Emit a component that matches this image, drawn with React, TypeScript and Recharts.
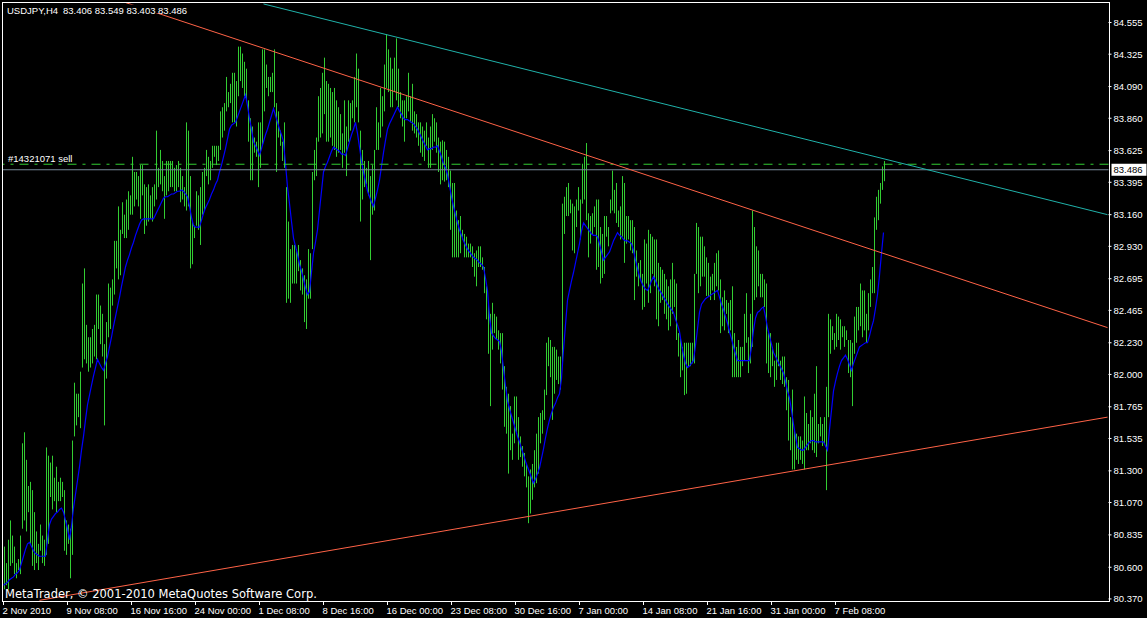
import React from "react";
import { ComposedChart, Bar, Line, XAxis, YAxis, ReferenceLine } from "recharts";

// USDJPY H4 bars, oldest first
const HIGHS = [
  80.75, 80.63, 80.80, 80.94, 80.83, 80.75, 80.63, 80.66, 80.83, 81.50,
  81.58, 81.38, 81.19, 81.22, 81.16, 81.00, 80.86, 80.77, 80.91, 80.83,
  80.80, 81.47, 81.41, 81.36, 81.41, 81.25, 81.33, 81.22, 81.25, 81.22,
  81.16, 80.94, 80.91, 80.88, 81.52, 81.94, 81.86, 81.86, 82.02, 82.66,
  82.77, 82.36, 82.27, 82.27, 82.33, 82.36, 82.58, 82.58, 82.50, 82.44,
  82.22, 82.38, 82.66, 82.63, 82.69, 82.97, 82.97, 83.22, 83.05, 83.25,
  83.16, 83.27, 83.33, 83.30, 83.58, 83.47, 83.47, 83.44, 83.52, 83.52,
  83.38, 83.36, 83.38, 83.30, 83.36, 83.38, 83.77, 83.50, 83.63, 83.55,
  83.44, 83.55, 83.55, 83.55, 83.55, 83.50, 83.52, 83.55, 83.50, 83.44,
  83.36, 83.83, 83.77, 83.44, 83.11, 83.08, 83.33, 83.30, 83.36, 83.47,
  83.50, 83.63, 83.58, 83.55, 83.66, 83.66, 83.66, 83.66, 83.91, 83.94,
  83.97, 84.16, 84.05, 84.11, 84.19, 84.19, 84.13, 84.38, 84.38, 84.33,
  84.27, 84.22, 83.99, 83.86, 83.80, 83.72, 83.69, 83.83, 83.83, 84.36,
  84.36, 84.25, 84.16, 84.16, 84.19, 84.36, 83.97, 83.91, 83.77, 83.69,
  83.83, 83.36, 83.11, 82.91, 82.94, 82.94, 82.91, 82.94, 82.83, 82.77,
  82.72, 82.69, 82.91, 82.88, 83.47, 83.63, 83.72, 84.02, 84.08, 84.19,
  84.30, 84.13, 84.11, 84.08, 84.05, 84.08, 83.99, 83.94, 83.89, 83.75,
  83.99, 83.80, 83.99, 83.97, 83.99, 84.16, 84.33, 84.22, 83.77, 83.63,
  83.55, 83.50, 83.55, 83.44, 83.52, 83.63, 83.94, 83.83, 84.08, 84.02,
  84.25, 84.47, 84.36, 84.30, 84.22, 84.30, 84.44, 84.22, 84.05, 83.99,
  83.99, 84.02, 84.19, 84.02, 84.11, 83.91, 83.89, 83.83, 83.83, 83.80,
  83.77, 83.83, 83.72, 83.80, 83.89, 83.86, 83.83, 83.72, 83.69, 83.70,
  83.69, 83.63, 83.58, 83.48, 83.39, 83.39, 83.19, 83.12, 83.15, 83.05,
  83.02, 83.00, 82.95, 82.95, 82.93, 82.88, 82.90, 82.93, 82.93, 82.85,
  82.78, 82.64, 82.52, 82.44, 82.52, 82.44, 82.42, 82.32, 82.30, 82.30,
  82.06, 81.91, 81.86, 81.77, 81.57, 81.84, 81.84, 81.69, 81.55, 81.48,
  81.43, 81.35, 81.26, 81.31, 81.35, 81.45, 81.57, 81.69, 81.72, 81.74,
  81.89, 82.23, 82.27, 82.25, 82.20, 82.20, 82.18, 82.13, 82.13, 83.24,
  83.29, 83.36, 83.39, 83.27, 83.24, 83.22, 83.27, 83.36, 83.27, 83.53,
  83.58, 83.68, 83.17, 83.15, 83.17, 83.22, 83.27, 83.27, 83.07, 83.02,
  83.15, 83.15, 83.07, 83.27, 83.48, 83.34, 83.39, 83.19, 83.22, 83.44,
  83.39, 83.15, 83.15, 83.12, 83.12, 83.07, 82.90, 82.81, 82.83, 82.73,
  82.98, 82.95, 83.05, 83.02, 83.00, 82.98, 82.98, 82.81, 82.78, 82.76,
  82.73, 82.69, 82.64, 82.69, 82.81, 82.69, 82.66, 82.30, 82.27, 82.20,
  82.23, 82.23, 82.23, 82.23, 82.23, 82.73, 83.10, 83.07, 83.00, 83.00,
  82.93, 82.85, 82.81, 82.71, 82.73, 82.81, 82.88, 82.90, 82.69, 82.56,
  82.61, 82.54, 82.52, 82.54, 82.64, 82.30, 82.20, 82.25, 82.20, 82.20,
  82.44, 82.59, 82.27, 82.44, 83.19, 83.07, 82.93, 82.90, 82.73, 82.73,
  82.69, 82.66, 82.30, 82.30, 82.20, 82.10, 82.23, 82.23, 82.10, 82.13,
  82.13, 81.98, 81.96, 81.69, 81.89, 81.60, 81.57, 81.55, 81.55, 81.52,
  81.84, 81.72, 81.64, 81.74, 81.69, 81.86, 82.06, 81.64, 81.69, 81.64,
  81.69, 81.91, 82.44, 82.40, 82.35, 82.30, 82.44, 82.42, 82.40, 82.35,
  82.35, 82.32, 82.25, 82.25, 82.23, 82.42, 82.49, 82.49, 82.66, 82.61,
  82.61, 82.44, 82.59, 82.69, 82.78, 83.14, 83.29, 83.34, 83.39, 83.51,
  83.549,
];

const LOWS = [
  80.44, 80.47, 80.44, 80.61, 80.63, 80.55, 80.52, 80.58, 80.55, 80.88,
  80.94, 80.86, 81.00, 80.77, 80.61, 80.58, 80.63, 80.58, 80.72, 80.63,
  80.61, 80.69, 80.77, 81.11, 81.02, 81.08, 81.00, 81.08, 81.08, 81.11,
  80.72, 80.69, 80.77, 80.52, 80.69, 81.55, 81.63, 81.69, 81.61, 82.05,
  82.11, 82.08, 82.02, 82.05, 82.08, 82.13, 82.11, 82.33, 82.22, 82.13,
  81.63, 81.97, 82.27, 82.33, 82.50, 82.58, 82.77, 82.69, 82.72, 83.02,
  82.99, 82.99, 83.05, 83.16, 83.16, 83.22, 83.27, 83.22, 83.13, 83.30,
  83.02, 83.08, 83.11, 83.13, 83.11, 83.22, 83.27, 83.36, 83.38, 83.33,
  83.13, 83.30, 83.33, 83.36, 83.36, 83.33, 83.33, 83.36, 83.25, 83.27,
  83.22, 83.19, 83.22, 82.77, 82.80, 82.99, 83.08, 83.05, 82.94, 83.16,
  83.19, 83.44, 83.38, 83.41, 83.50, 83.58, 83.52, 83.55, 83.63, 83.72,
  83.77, 83.91, 83.94, 83.97, 83.83, 83.83, 83.80, 84.02, 84.13, 84.08,
  84.02, 83.99, 83.69, 83.41, 83.41, 83.61, 83.58, 83.36, 83.50, 83.66,
  83.91, 84.08, 84.02, 84.05, 84.05, 83.94, 83.47, 83.72, 83.66, 83.55,
  83.50, 82.52, 82.55, 82.52, 82.66, 82.66, 82.66, 82.75, 82.61, 82.58,
  82.38, 82.33, 82.55, 82.55, 82.91, 83.41, 83.44, 83.69, 83.72, 83.75,
  83.89, 83.69, 83.69, 83.72, 83.66, 83.63, 83.58, 83.61, 83.63, 83.50,
  83.61, 83.44, 83.69, 83.77, 83.86, 83.83, 83.94, 83.83, 83.11, 83.27,
  83.36, 83.38, 83.30, 82.83, 83.16, 83.19, 83.63, 83.63, 83.72, 83.80,
  83.91, 84.08, 84.05, 83.94, 83.94, 84.05, 83.99, 83.94, 83.86, 83.80,
  83.69, 83.86, 83.91, 83.83, 83.77, 83.75, 83.72, 83.66, 83.61, 83.58,
  83.55, 83.66, 83.50, 83.50, 83.63, 83.69, 83.61, 83.47, 83.38, 83.41,
  83.40, 83.41, 83.36, 83.05, 82.85, 82.85, 82.85, 82.85, 82.88, 82.98,
  82.85, 82.85, 82.85, 82.85, 82.78, 82.71, 82.64, 82.78, 82.78, 82.76,
  82.59, 82.40, 82.15, 81.77, 82.18, 82.30, 82.25, 82.18, 82.08, 81.89,
  81.62, 81.57, 81.28, 81.45, 81.38, 81.50, 81.57, 81.38, 81.40, 81.33,
  81.26, 81.18, 80.92, 80.99, 81.09, 81.18, 81.21, 81.28, 81.50, 81.57,
  81.67, 81.85, 82.06, 81.98, 81.67, 81.86, 81.96, 81.93, 81.89, 82.08,
  83.02, 83.15, 83.15, 83.17, 82.90, 82.88, 83.07, 83.19, 82.98, 83.24,
  83.27, 83.12, 82.85, 82.95, 83.02, 83.07, 82.76, 82.78, 82.66, 82.70,
  82.73, 83.00, 82.93, 83.17, 83.19, 83.17, 83.10, 83.07, 82.98, 83.00,
  82.81, 82.95, 82.98, 82.90, 82.88, 82.54, 82.71, 82.64, 82.69, 82.47,
  82.49, 82.66, 82.52, 82.59, 82.73, 82.64, 82.40, 82.35, 82.52, 82.54,
  82.44, 82.40, 82.32, 82.35, 82.44, 82.49, 82.25, 82.13, 81.98, 82.03,
  81.85, 81.86, 82.06, 82.06, 82.08, 82.08, 82.73, 82.59, 82.64, 82.71,
  82.71, 82.57, 82.57, 82.54, 82.61, 82.54, 82.64, 82.61, 82.30, 82.35,
  82.32, 82.44, 82.30, 82.32, 81.98, 81.98, 81.98, 81.98, 81.98, 82.06,
  82.10, 82.23, 82.01, 82.08, 82.20, 82.54, 82.56, 82.64, 82.56, 82.56,
  82.49, 82.08, 82.01, 81.98, 82.06, 81.91, 81.96, 82.06, 81.96, 81.93,
  81.91, 81.74, 81.52, 81.45, 81.31, 81.31, 81.38, 81.35, 81.38, 81.35,
  81.31, 81.45, 81.45, 81.50, 81.45, 81.43, 81.40, 81.50, 81.55, 81.48,
  81.50, 81.16, 81.69, 82.15, 82.25, 82.18, 82.20, 82.25, 82.18, 82.27,
  82.20, 82.25, 82.01, 81.98, 81.77, 82.15, 82.23, 82.32, 82.35, 82.27,
  82.32, 82.23, 82.32, 82.49, 82.59, 82.59, 83.05, 83.12, 83.24, 83.34,
  83.403,
];

// moving average drawn over the bars
const MA = [
  80.47, 80.48, 80.49, 80.51, 80.52, 80.53, 80.55, 80.56, 80.58, 80.63,
  80.68, 80.73, 80.77, 80.78, 80.75, 80.72, 80.70, 80.69, 80.68, 80.68,
  80.68, 80.68, 80.80, 80.91, 80.95, 80.97, 80.99, 81.00, 81.02, 81.03,
  81.00, 80.94, 80.88, 80.80, 80.90, 81.03, 81.13, 81.23, 81.33, 81.45,
  81.55, 81.67, 81.78, 81.85, 81.92, 81.99, 82.05, 82.11, 82.08, 82.05,
  82.03, 82.08, 82.13, 82.20, 82.27, 82.35, 82.42, 82.49, 82.56, 82.64,
  82.71, 82.78, 82.83, 82.87, 82.92, 82.96, 83.01, 83.05, 83.09, 83.12,
  83.13, 83.13, 83.13, 83.13, 83.13, 83.13, 83.16, 83.19, 83.22, 83.25,
  83.28, 83.29, 83.29, 83.30, 83.31, 83.31, 83.32, 83.33, 83.33, 83.34,
  83.33, 83.31, 83.29, 83.22, 83.14, 83.08, 83.07, 83.07, 83.07, 83.12,
  83.17, 83.21, 83.24, 83.27, 83.31, 83.34, 83.38, 83.41, 83.47, 83.52,
  83.58, 83.64, 83.71, 83.78, 83.81, 83.82, 83.83, 83.87, 83.91, 83.95,
  83.99, 84.03, 83.95, 83.86, 83.78, 83.69, 83.66, 83.63, 83.59, 83.64,
  83.69, 83.74, 83.78, 83.83, 83.88, 83.93, 83.88, 83.83, 83.78, 83.74,
  83.69, 83.53, 83.36, 83.24, 83.11, 82.99, 82.93, 82.87, 82.80, 82.75,
  82.69, 82.63, 82.58, 82.60, 82.74, 82.88, 82.96, 83.05, 83.19, 83.33,
  83.47, 83.51, 83.54, 83.58, 83.62, 83.65, 83.64, 83.63, 83.62, 83.60,
  83.60, 83.59, 83.64, 83.69, 83.74, 83.78, 83.83, 83.75, 83.65, 83.55,
  83.47, 83.40, 83.33, 83.29, 83.25, 83.22, 83.28, 83.34, 83.41, 83.51,
  83.61, 83.70, 83.78, 83.82, 83.85, 83.88, 83.91, 83.94, 83.91, 83.89,
  83.86, 83.85, 83.85, 83.84, 83.83, 83.82, 83.80, 83.78, 83.75, 83.72,
  83.69, 83.66, 83.63, 83.64, 83.64, 83.65, 83.65, 83.66, 83.62, 83.58,
  83.53, 83.50, 83.45, 83.37, 83.29, 83.22, 83.16, 83.10, 83.05, 83.01,
  82.97, 82.94, 82.91, 82.89, 82.87, 82.85, 82.84, 82.83, 82.81, 82.80,
  82.78, 82.70, 82.61, 82.42, 82.30, 82.28, 82.26, 82.25, 82.24, 82.17,
  82.04, 81.92, 81.81, 81.75, 81.70, 81.65, 81.60, 81.55, 81.51, 81.46,
  81.42, 81.37, 81.33, 81.29, 81.25, 81.21, 81.24, 81.28, 81.32, 81.39,
  81.46, 81.54, 81.61, 81.67, 81.72, 81.76, 81.79, 81.83, 81.86, 81.97,
  82.18, 82.36, 82.54, 82.61, 82.68, 82.74, 82.81, 82.88, 82.95, 83.04,
  83.10, 83.08, 83.06, 83.04, 83.02, 83.01, 83.01, 83.00, 82.95, 82.89,
  82.83, 82.85, 82.87, 82.89, 82.93, 82.97, 83.00, 83.03, 83.01, 83.00,
  82.98, 82.97, 82.97, 82.96, 82.95, 82.90, 82.83, 82.77, 82.71, 82.67,
  82.64, 82.62, 82.61, 82.64, 82.68, 82.71, 82.68, 82.64, 82.61, 82.59,
  82.56, 82.54, 82.51, 82.49, 82.47, 82.45, 82.40, 82.36, 82.31, 82.22,
  82.14, 82.08, 82.05, 82.06, 82.08, 82.10, 82.21, 82.33, 82.45, 82.51,
  82.53, 82.55, 82.56, 82.57, 82.58, 82.59, 82.60, 82.61, 82.56, 82.51,
  82.47, 82.42, 82.37, 82.31, 82.26, 82.20, 82.15, 82.10, 82.10, 82.10,
  82.10, 82.10, 82.10, 82.10, 82.20, 82.32, 82.41, 82.45, 82.46, 82.48,
  82.49, 82.42, 82.34, 82.28, 82.22, 82.16, 82.13, 82.10, 82.07, 82.04,
  82.01, 81.95, 81.88, 81.83, 81.74, 81.64, 81.55, 81.47, 81.46, 81.45,
  81.45, 81.47, 81.49, 81.51, 81.52, 81.52, 81.51, 81.51, 81.51, 81.51,
  81.51, 81.48, 81.45, 81.60, 81.74, 81.88, 81.95, 82.01, 82.06, 82.10,
  82.12, 82.14, 82.11, 82.07, 82.03, 82.08, 82.12, 82.16, 82.20, 82.21,
  82.22, 82.23, 82.23, 82.28, 82.34, 82.39, 82.48, 82.58, 82.72, 82.88,
  83.03,
];

// last bar: open, high, low, close
const LAST_OHLC = [83.406, 83.549, 83.403, 83.486];
const ORDER_PRICE = 83.526;
const ORDER_LABEL = "#14321071 sell";

const X_LABELS = [
  "2 Nov 2010", "9 Nov 08:00", "16 Nov 16:00", "24 Nov 00:00", "1 Dec 08:00",
  "8 Dec 16:00", "16 Dec 00:00", "23 Dec 08:00", "30 Dec 16:00", "7 Jan 00:00",
  "14 Jan 08:00", "21 Jan 16:00", "31 Jan 00:00", "7 Feb 08:00",
];
const BARS_PER_LABEL = 32;

const Y_TICKS = [
  84.555, 84.325, 84.09, 83.86, 83.625, 83.395, 83.16, 82.93, 82.695, 82.465,
  82.23, 82.0, 81.765, 81.535, 81.3, 81.07, 80.835, 80.6, 80.37,
];

// trend lines: [start, end] as (bar slot, price)
const CYAN_TREND = [{ i: 130, v: 84.69 }, { i: 552, v: 83.16 }];
const RED_TOP_TREND = [{ i: 61, v: 84.7 }, { i: 552, v: 82.34 }];
const RED_BOTTOM_TREND = [{ i: 18, v: 80.36 }, { i: 552, v: 81.69 }];

// empty slots after the last bar (chart shift)
const TOTAL_SLOTS = 553;

const W = 1147;
const H = 618;
const FONT = "'Liberation Sans', Arial, sans-serif";
const BAR_COLOR = "#32cd32";

const rows = Array.from({ length: TOTAL_SLOTS }, (_, i) => ({
  i,
  range: i < HIGHS.length ? [LOWS[i], HIGHS[i]] : null,
  ma: i < MA.length ? MA[i] : null,
}));

const xTicks = X_LABELS.map((_, k) => k * BARS_PER_LABEL);

// 1px high-low stick snapped to the pixel grid
const Stick = ({ x, y, width, height }: any) => {
  if (x == null || !height) return null;
  const col = Math.floor(x + width / 2);
  return <rect x={col} y={y} width={1} height={Math.max(1, height)} fill={BAR_COLOR} />;
};

const XTick = ({ x, y, payload }: any) => (
  <text x={x - 1} y={y} dy="0.71em" fill="#fff" fontSize={9.5} fontFamily={FONT} textAnchor="start">
    {X_LABELS[payload.value / BARS_PER_LABEL]}
  </text>
);

const PriceTag = ({ viewBox }: any) => {
  if (!viewBox) return null;
  const x = viewBox.x + viewBox.width + 3;
  const y = viewBox.y;
  return (
    <g>
      <rect x={x} y={y - 6} width={35} height={12} fill="#fff" />
      <text x={x + 2} y={y + 3.5} fill="#000" fontSize={9.5} fontFamily={FONT}>
        {LAST_OHLC[3].toFixed(3)}
      </text>
    </g>
  );
};

export default function App() {
  return (
    <div style={{ position: "relative", width: W, height: H, background: "#000", overflow: "hidden" }}>
      <style>{"html,body{margin:0;padding:0;overflow:hidden;background:#000}"}</style>
      <ComposedChart
        width={W}
        height={H}
        data={rows}
        margin={{ top: 2, right: 0, bottom: 0, left: 2.5 }}
        style={{ background: "#000" }}
      >
        <XAxis
          dataKey="i"
          type="category"
          ticks={xTicks}
          interval={0}
          height={17}
          tickSize={4}
          tickMargin={2}
          axisLine={false}
          tickLine={{ stroke: "#fff" }}
          tick={<XTick />}
        />
        <YAxis
          orientation="right"
          width={38.5}
          type="number"
          domain={[80.355, 84.704]}
          allowDataOverflow
          ticks={Y_TICKS}
          interval={0}
          tickSize={3}
          tickMargin={2}
          axisLine={false}
          tickLine={{ stroke: "#fff" }}
          tick={{ fill: "#fff", fontSize: 9.5, fontFamily: FONT }}
          tickFormatter={(v: number) => v.toFixed(3)}
        />
        <Bar dataKey="range" barSize={1} fill={BAR_COLOR} shape={<Stick />} isAnimationActive={false} />
        <Line
          dataKey="ma"
          type="linear"
          stroke="#0000ff"
          strokeWidth={1.2}
          dot={false}
          activeDot={false}
          isAnimationActive={false}
        />
        <ReferenceLine y={ORDER_PRICE} stroke={BAR_COLOR} strokeDasharray="9 6 3 6" />
        <ReferenceLine y={LAST_OHLC[3]} stroke="#778899" label={<PriceTag />} />
        <ReferenceLine
          segment={[{ x: CYAN_TREND[0].i, y: CYAN_TREND[0].v }, { x: CYAN_TREND[1].i, y: CYAN_TREND[1].v }]}
          stroke="#20b2aa"
        />
        <ReferenceLine
          segment={[{ x: RED_TOP_TREND[0].i, y: RED_TOP_TREND[0].v }, { x: RED_TOP_TREND[1].i, y: RED_TOP_TREND[1].v }]}
          stroke="#ff6347"
        />
        <ReferenceLine
          segment={[
            { x: RED_BOTTOM_TREND[0].i, y: RED_BOTTOM_TREND[0].v },
            { x: RED_BOTTOM_TREND[1].i, y: RED_BOTTOM_TREND[1].v },
          ]}
          stroke="#ff6347"
        />
      </ComposedChart>

      {/* chart frame */}
      <div
        style={{
          position: "absolute",
          left: 2,
          top: 2,
          width: 1108,
          height: 600,
          border: "1px solid #fff",
          boxSizing: "border-box",
          pointerEvents: "none",
        }}
      />

      {/* symbol header, order tag and copyright */}
      <svg width={W} height={H} style={{ position: "absolute", left: 0, top: 0, pointerEvents: "none" }}>
        <rect x={5} y={4.5} width={180} height={8.5} fill="#000" />
        <text x={7} y={14} fill="#fff" fontSize={9.5} fontFamily={FONT}>
          USDJPY,H4
        </text>
        <text x={63} y={14} fill="#fff" fontSize={9.5} fontFamily={FONT}>
          {LAST_OHLC.map((v) => v.toFixed(3)).join(" ")}
        </text>
        <text x={8} y={161.5} fill="#fff" fontSize={9.5} fontFamily={FONT}>
          {ORDER_LABEL}
        </text>
        <text x={5} y={598} fill="#fff" fontSize={11.5} fontFamily="'DejaVu Sans', sans-serif">
          MetaTrader, © 2001-2010 MetaQuotes Software Corp.
        </text>
      </svg>
    </div>
  );
}
